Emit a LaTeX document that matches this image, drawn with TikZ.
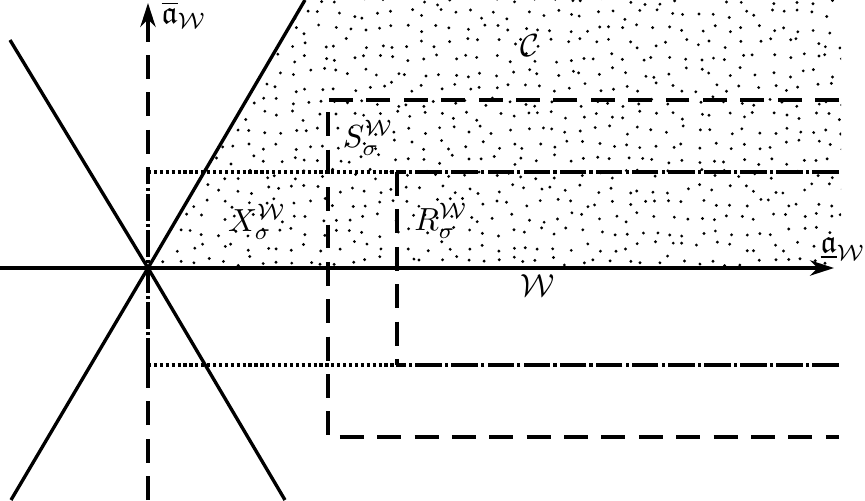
\documentclass[tikz,border=0pt]{standalone}
\usepackage{amssymb}
\usetikzlibrary{arrows.meta}

\begin{document}
\begin{tikzpicture}[x=1.1cm, y=1.1cm, >={Stealth[length=7.5pt,width=4.8pt]}, line width=1.05pt,
    sbound/.style={dash pattern=on 7.5pt off 4.2pt},
    rbound/.style={dash pattern=on 8.3pt off 1pt on 1pt off 1pt},
    guide/.style={dash pattern=on 1pt off 0.85pt}]

    \useasboundingbox (-1.48,-2.32) rectangle (7.17,2.68);

    % Points
    \coordinate (O) at (0,0);
    \coordinate (xs) at (-1.48,0);
    \coordinate (xe) at (6.86,0);
    \coordinate (ys) at (0,-2.32);
    \coordinate (ye) at (0,2.65);
    \coordinate (yhi) at (0,0.96);
    \coordinate (ylo) at (0,-0.97);
    \coordinate (Stl) at (1.80,1.68);
    \coordinate (Str) at (6.91,1.68);
    \coordinate (Sbl) at (1.80,-1.69);
    \coordinate (Sbr) at (6.91,-1.69);
    \coordinate (Rtl) at (2.49,0.96);
    \coordinate (Rtr) at (6.91,0.96);
    \coordinate (Rbl) at (2.49,-0.97);
    \coordinate (Rbr) at (6.91,-0.97);

    % Stippled cone
    \begin{scope}
        \clip (O) -- (1.57,2.68) -- (6.93,2.68) -- (6.93,0) -- cycle;
        \pgfmathsetseed{11}
        \foreach \i in {0,...,48}
            \foreach \j in {0,...,18}
                \fill ({\i*0.145+0.05*rand},{\j*0.145+0.07+0.05*rand}) circle (0.5pt);
    \end{scope}

    % Walls through the origin
    \draw (-1.37,-2.32) -- (O) -- (1.57,2.68);
    \draw (-1.38,2.28) -- (O) -- (1.37,-2.32);

    % Box S
    \draw[sbound] (Str) -- (Stl) -- (Sbl) -- (Sbr);

    % Box R
    \draw[rbound] (Rtr) -- (Rtl);
    \draw[rbound] (Rbr) -- (Rbl);
    \draw[sbound] (Rtl) -- (Rbl);
    \draw[guide] (yhi) -- (Rtl);
    \draw[guide] (ylo) -- (Rbl);

    % Axes
    \draw[->] (xs) -- (xe);
    \draw[sbound] (ys) -- (ylo);
    \draw[rbound] (ylo) -- (yhi);
    \draw[<-, sbound] (ye) -- (yhi);

    % Labels
    \node (lay) at (0.36,2.53) {$\overline{\mathfrak{a}}_{\mathcal{W}}$};
    \node (lax) at (6.95,0.19) {$\underline{\mathfrak{a}}_{\mathcal{W}}$};
    \node (lblC) at (3.82,2.22) {$\mathcal{C}$};
    \node (lblS) at (2.20,1.30) {$S_\sigma^{\mathcal{W}}$};
    \node (lblX) at (1.09,0.46) {$X_\sigma^{\mathcal{W}}$};
    \node (lblR) at (2.93,0.47) {$R_\sigma^{\mathcal{W}}$};
    \node (lblW) at (3.90,-0.18) {$\mathcal{W}$};

\end{tikzpicture}
\end{document}
